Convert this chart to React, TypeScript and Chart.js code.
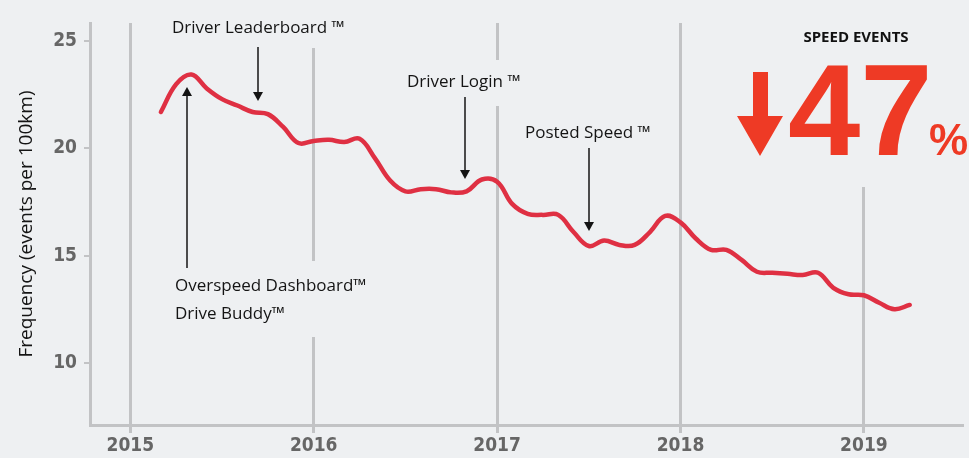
import React, { useEffect, useRef } from "react";
import { Chart, registerables } from "chart.js";

Chart.register(...registerables);

// ---- data ----
const MONTHS = [
  "2015-03", "2015-04", "2015-05", "2015-06", "2015-07", "2015-08", "2015-09", "2015-10", "2015-11", "2015-12",
  "2016-01", "2016-02", "2016-03", "2016-04", "2016-05", "2016-06", "2016-07", "2016-08", "2016-09", "2016-10", "2016-11", "2016-12",
  "2017-01", "2017-02", "2017-03", "2017-04", "2017-05", "2017-06", "2017-07", "2017-08", "2017-09", "2017-10", "2017-11", "2017-12",
  "2018-01", "2018-02", "2018-03", "2018-04", "2018-05", "2018-06", "2018-07", "2018-08", "2018-09", "2018-10", "2018-11", "2018-12",
  "2019-01", "2019-02", "2019-03", "2019-04",
];
const SPEED_EVENTS = [
  21.7, 23.0, 23.45, 22.8, 22.3, 22.0, 21.7, 21.6, 21.0, 20.25,
  20.35, 20.4, 20.3, 20.45, 19.55, 18.5, 18.0, 18.1, 18.1, 17.95, 18.0, 18.55,
  18.45, 17.4, 16.95, 16.9, 16.9, 16.1, 15.45, 15.7, 15.5, 15.5, 16.1, 16.85,
  16.55, 15.8, 15.27, 15.27, 14.8, 14.25, 14.2, 14.15, 14.1, 14.2, 13.5, 13.2,
  13.15, 12.8, 12.5, 12.7,
];
const YEAR_TICKS = [2015, 2016, 2017, 2018, 2019];
const Y_TICKS = [10, 15, 20, 25];
const Y_TITLE = "Frequency (events per 100km)";
const HEADLINE = "SPEED EVENTS";
const BIG_NUMBER = "47";
const PERCENT = "%";
const NOTE_LEADERBOARD = "Driver Leaderboard \u2122";
const NOTE_LOGIN = "Driver Login \u2122";
const NOTE_POSTED = "Posted Speed \u2122";
const NOTE_OVERSPEED = "Overspeed Dashboard\u2122";
const NOTE_BUDDY = "Drive Buddy\u2122";

// ---- styles ----
const BG = "#eef0f2";
const GRID = "#c2c3c5";
const LINE = "#df3043";
const RED = "#ee3a25";
const INK = "#141414";
const TICK_FAMILY = "'Liberation Sans Narrow', 'DejaVu Sans Condensed', sans-serif";
const NOTE_FONT = "500 17px 'Open Sans', sans-serif";

function drawArrow(ctx: CanvasRenderingContext2D, x: number, yFrom: number, yTip: number) {
  const dir = yTip > yFrom ? 1 : -1;
  const head = 9;
  const half = 5;
  ctx.save();
  ctx.strokeStyle = INK;
  ctx.fillStyle = INK;
  ctx.lineWidth = 1.5;
  ctx.beginPath();
  ctx.moveTo(x, yFrom);
  ctx.lineTo(x, yTip - dir * head);
  ctx.stroke();
  ctx.beginPath();
  ctx.moveTo(x - half, yTip - dir * head);
  ctx.lineTo(x + half, yTip - dir * head);
  ctx.lineTo(x, yTip);
  ctx.closePath();
  ctx.fill();
  ctx.restore();
}

const overlayPlugin = {
  id: "overlay",
  beforeDraw(chart: any) {
    const ctx = chart.ctx as CanvasRenderingContext2D;
    ctx.save();
    ctx.fillStyle = BG;
    ctx.fillRect(0, 0, chart.width, chart.height);
    ctx.restore();
  },
  beforeDatasetsDraw(chart: any) {
    // label backgrounds that interrupt the year lines
    const ctx = chart.ctx as CanvasRenderingContext2D;
    ctx.save();
    ctx.fillStyle = BG;
    ctx.fillRect(150, 0, 330, 48);
    ctx.fillRect(395, 60, 145, 46);
    ctx.fillRect(160, 261, 235, 76);
    ctx.fillRect(730, 0, 239, 187);
    ctx.restore();
  },
  afterDatasetsDraw(chart: any) {
    const ctx = chart.ctx as CanvasRenderingContext2D;
    ctx.save();
    ctx.fillStyle = INK;
    ctx.font = NOTE_FONT;
    ctx.textBaseline = "middle";
    ctx.textAlign = "left";
    ctx.fillText(NOTE_LEADERBOARD, 172, 28);
    ctx.fillText(NOTE_LOGIN, 407, 82);
    ctx.fillText(NOTE_POSTED, 525, 133);
    ctx.fillText(NOTE_OVERSPEED, 175, 286);
    ctx.fillText(NOTE_BUDDY, 175, 314);

    drawArrow(ctx, 258, 47, 101);
    drawArrow(ctx, 465, 97, 179);
    drawArrow(ctx, 589, 148, 231);
    drawArrow(ctx, 187, 268, 87);

    // headline
    ctx.font = "bold 15px 'Open Sans', sans-serif";
    ctx.textAlign = "center";
    ctx.fillStyle = "#111";
    ctx.fillText(HEADLINE, 856, 38);

    // red down arrow
    ctx.fillStyle = RED;
    ctx.beginPath();
    ctx.moveTo(753, 72);
    ctx.lineTo(768, 72);
    ctx.lineTo(768, 116);
    ctx.lineTo(783, 116);
    ctx.lineTo(760, 156);
    ctx.lineTo(737, 116);
    ctx.lineTo(753, 116);
    ctx.closePath();
    ctx.fill();

    ctx.textBaseline = "alphabetic";
    ctx.textAlign = "left";
    ctx.font = "bold 130px 'Liberation Sans', sans-serif";
    ctx.fillText(BIG_NUMBER, 788, 155);
    ctx.font = "bold 44px 'Liberation Sans', sans-serif";
    ctx.fillText(PERCENT, 929, 155);
    ctx.restore();
  },
};

export default function App() {
  const ref = useRef<HTMLCanvasElement>(null);
  useEffect(() => {
    document.body.style.margin = "0";
    document.body.style.background = BG;
    const points = MONTHS.map((m, i) => ({
      x: parseInt(m.slice(0, 4), 10) + (parseInt(m.slice(5, 7), 10) - 1) / 12,
      y: SPEED_EVENTS[i],
    }));
    const chart = new Chart(ref.current as HTMLCanvasElement, {
      type: "line",
      data: {
        datasets: [
          {
            data: points,
            borderColor: LINE,
            borderWidth: 4.5,
            pointRadius: 0,
            tension: 0.4,
            borderCapStyle: "round",
            borderJoinStyle: "round",
            fill: false,
          },
        ],
      },
      options: {
        responsive: false,
        animation: false,
        layout: { padding: { left: 0, right: 7, top: 23, bottom: 0 } },
        plugins: { legend: { display: false }, tooltip: { enabled: false } },
        scales: {
          x: {
            type: "linear",
            min: 2014.78,
            max: 2019.535,
            afterBuildTicks: (s: any) => {
              s.ticks = YEAR_TICKS.map((v) => ({ value: v }));
            },
            afterFit: (s: any) => {
              s.height = 33;
            },
            grid: {
              color: GRID,
              lineWidth: 3,
              drawTicks: true,
              tickLength: 8,
            },
            border: { color: GRID, width: 3 },
            ticks: {
              autoSkip: false,
              maxRotation: 0,
              padding: 2,
              color: "#666",
              font: { family: TICK_FAMILY, weight: "bold", size: 19 },
              callback: (v: any) => String(v),
            },
          },
          y: {
            type: "linear",
            min: 7.1,
            max: 25.85,
            afterBuildTicks: (s: any) => {
              s.ticks = Y_TICKS.map((v) => ({ value: v }));
            },
            afterFit: (s: any) => {
              s.width = 90;
            },
            grid: {
              color: GRID,
              lineWidth: 2,
              drawOnChartArea: false,
              drawTicks: true,
              tickLength: 6,
            },
            border: { color: GRID, width: 3 },
            title: {
              display: true,
              text: Y_TITLE,
              color: INK,
              font: { family: "'Open Sans', sans-serif", size: 19 },
              padding: { top: 15, bottom: 0 },
            },
            ticks: {
              padding: 7,
              color: "#666",
              font: { family: TICK_FAMILY, weight: "bold", size: 19 },
              callback: (v: any) => String(v),
            },
          },
        },
      },
      plugins: [overlayPlugin],
    } as any);
    return () => chart.destroy();
  }, []);
  return (
    <div style={{ width: 969, height: 458, background: BG }}>
      <canvas ref={ref} width={969} height={458} style={{ display: "block" }} />
    </div>
  );
}
